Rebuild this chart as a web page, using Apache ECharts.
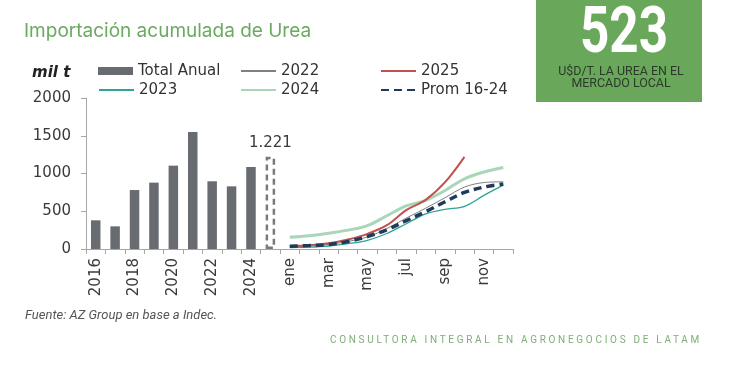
<!DOCTYPE html>
<html>
<head>
<meta charset="utf-8">
<script src="https://cdn.jsdelivr.net/npm/echarts@6/dist/echarts.min.js"></script>
<style>
html,body{margin:0;padding:0;background:#ffffff;}
#wrap{position:relative;width:730px;height:367px;overflow:hidden;}
#c{position:absolute;left:0;top:0;width:730px;height:367px;}
#foot{position:absolute;left:330px;top:334px;font-family:'Roboto';font-size:10px;letter-spacing:2.7px;color:#7fae78;white-space:nowrap;}
</style>
</head>
<body>
<div id="wrap">
<div id="c"></div>
<div id="foot">CONSULTORA INTEGRAL EN AGRONEGOCIOS DE LATAM</div>
</div>
<script>
// ---- data ----
const years = ['2016','2017','2018','2019','2020','2021','2022','2023','2024'];
const annualTotals = [380, 300, 781, 879, 1104, 1550, 897, 830, 1086];
const currentYear = '2025';
const total2025 = 1221;
const months = ['ene','feb','mar','abr','may','jun','jul','ago','sep','oct','nov','dic'];
const acc2022 = [30, 40, 60, 100, 160, 270, 410, 540, 680, 820, 880, 890];
const acc2023 = [20, 25, 40, 70, 115, 205, 335, 465, 525, 565, 710, 845];
const acc2024 = [155, 175, 210, 250, 310, 440, 570, 645, 775, 930, 1020, 1080];
const acc2025 = [40, 50, 75, 125, 200, 315, 515, 650, 885, 1221];
const accProm = [38, 45, 60, 100, 165, 255, 375, 495, 625, 750, 820, 862];
const yTicks = [0, 500, 1000, 1500, 2000];

const categories = years.concat([currentYear], months);
const pad = new Array(years.length + 1).fill(null);
const fmt = v => String(v).replace(/\B(?=(\d{3})+(?!\d))/g, '.');

const axisFont = {fontFamily: 'DejaVu Sans', fontSize: 15, color: '#3a3a3a'};

const barData = annualTotals.slice().concat([{
  value: total2025,
  itemStyle: {color: 'rgba(0,0,0,0)', borderColor: '#7a7a7a', borderWidth: 2.5, borderType: [6, 4]},
  label: {show: true, position: 'top', distance: 6, formatter: p => fmt(p.value),
          fontFamily: 'DejaVu Sans', fontSize: 15, color: '#3a3a3a'}
}]);

function lineSeries(name, vals, color, width, type, z) {
  return {
    name: name, type: 'line', data: pad.concat(vals), smooth: 0.35,
    symbol: 'none', showSymbol: false, z: z,
    lineStyle: {color: color, width: width, type: type || 'solid'},
    itemStyle: {color: color}, connectNulls: false
  };
}

function leg(name, left, top, isBar) {
  const o = {data: [name], left: left, top: top, padding: 0, itemWidth: 35, itemHeight: 8,
    selectedMode: false, textStyle: {fontFamily: 'DejaVu Sans', fontSize: 15, color: '#333333'}};
  if (isBar) { o.icon = 'rect'; } else { o.itemStyle = {opacity: 0}; }
  return o;
}

const chart = echarts.init(document.getElementById('c'), null, {renderer: 'canvas'});
chart.setOption({
  animation: false,
  backgroundColor: '#ffffff',
  grid: {left: 86, top: 98, width: 427, height: 151, containLabel: false},
  legend: [
    leg('Total Anual', 98, 63.5, true),
    leg('2022', 240, 63.5),
    leg('2025', 380, 63.5),
    leg('2023', 98, 82.5),
    leg('2024', 240, 82.5),
    leg('Prom 16-24', 380, 82.5)
  ],
  xAxis: {
    type: 'category', data: categories, boundaryGap: true,
    axisLine: {lineStyle: {color: '#a6a6a6', width: 1}},
    axisTick: {show: true, interval: 0, length: 5, lineStyle: {color: '#a6a6a6'}},
    axisLabel: Object.assign({interval: 1, rotate: 90, margin: 9}, axisFont)
  },
  yAxis: {
    type: 'value', min: yTicks[0], max: yTicks[yTicks.length - 1], interval: yTicks[1] - yTicks[0],
    splitLine: {show: false},
    axisLine: {show: true, lineStyle: {color: '#a6a6a6', width: 1}},
    axisTick: {show: true, length: 5, lineStyle: {color: '#a6a6a6'}},
    axisLabel: Object.assign({margin: 15, formatter: v => String(v)}, axisFont)
  },
  series: [
    {name: 'Total Anual', type: 'bar', data: barData, barWidth: 9.5,
     itemStyle: {color: '#686c70'}, z: 2},
    lineSeries('2024', acc2024, '#a9d6b8', 3, 'solid', 3),
    lineSeries('2023', acc2023, '#2fa395', 1.3, 'solid', 4),
    lineSeries('2022', acc2022, '#808080', 1, 'solid', 5),
    lineSeries('2025', acc2025, '#c2514e', 2, 'solid', 6),
    lineSeries('Prom 16-24', accProm, '#1e3a5c', 3.5, [8, 5], 7)
  ],
  graphic: [
    {type: 'text', x: 24, y: 31, style: {text: 'Importación acumulada de Urea', fill: '#6caa62',
      font: '19px Inter', textVerticalAlign: 'middle'}},
    {type: 'text', x: 32, y: 73, style: {text: 'mil t', fill: '#222222',
      font: 'italic bold 15px "DejaVu Sans"', textVerticalAlign: 'middle'}},
    {type: 'rect', shape: {x: 536, y: 0, width: 166, height: 102}, style: {fill: '#69a85b'}},
    {type: 'text', x: 624, y: 36, scaleX: 0.8, originX: 0, originY: 0,
      style: {text: '523', fill: '#ffffff', font: 'bold 64px Roboto', textAlign: 'center', textVerticalAlign: 'middle'}},
    {type: 'text', x: 621, y: 72, scaleX: 0.92, originX: 0, originY: 0,
      style: {text: 'U$D/T. LA UREA EN EL', fill: '#2c3a2a', font: '13.5px Roboto', textAlign: 'center', textVerticalAlign: 'middle'}},
    {type: 'text', x: 621, y: 83.5, scaleX: 0.92, originX: 0, originY: 0,
      style: {text: 'MERCADO LOCAL', fill: '#2c3a2a', font: '13.5px Roboto', textAlign: 'center', textVerticalAlign: 'middle'}},
    {type: 'text', x: 25, y: 316, style: {text: 'Fuente: AZ Group en base a Indec.', fill: '#555555',
      font: 'italic 13px Roboto', textVerticalAlign: 'middle'}}
  ]
});
</script>
</body>
</html>
